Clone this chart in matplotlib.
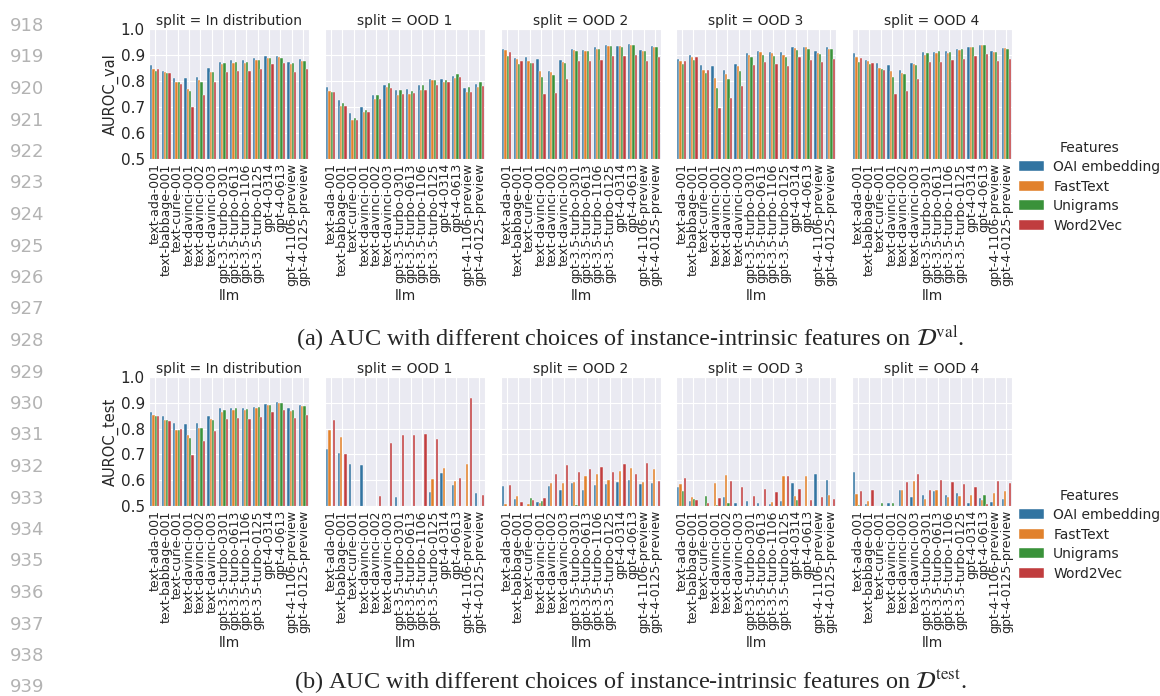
import numpy as np
import matplotlib
matplotlib.use("Agg")
import matplotlib.pyplot as plt
import seaborn as sns

llms = ["text-ada-001", "text-babbage-001", "text-curie-001", "text-davinci-001",
        "text-davinci-002", "text-davinci-003", "gpt-3.5-turbo-0301", "gpt-3.5-turbo-0613",
        "gpt-3.5-turbo-1106", "gpt-3.5-turbo-0125", "gpt-4-0314", "gpt-4-0613",
        "gpt-4-1106-preview", "gpt-4-0125-preview"]
features = ["OAI embedding", "FastText", "Unigrams", "Word2Vec"]
splits = ["In distribution", "OOD 1", "OOD 2", "OOD 3", "OOD 4"]
nan = np.nan

# AUROC on the validation set, one list per feature, in llm order
val_in_dist = {
    "OAI embedding": [0.860, 0.840, 0.810, 0.810, 0.815, 0.850, 0.875, 0.880, 0.880, 0.887, 0.895, 0.898, 0.872, 0.883],
    "FastText":      [0.845, 0.835, 0.795, 0.770, 0.805, 0.835, 0.865, 0.870, 0.870, 0.880, 0.890, 0.893, 0.865, 0.878],
    "Unigrams":      [0.840, 0.830, 0.795, 0.760, 0.795, 0.835, 0.870, 0.875, 0.872, 0.880, 0.890, 0.890, 0.868, 0.878],
    "Word2Vec":      [0.845, 0.830, 0.790, 0.700, 0.745, 0.795, 0.835, 0.840, 0.840, 0.845, 0.865, 0.870, 0.835, 0.848],
}
val_ood1 = {
    "OAI embedding": [0.776, 0.726, 0.677, 0.700, 0.747, 0.786, 0.767, 0.769, 0.786, 0.808, 0.808, 0.818, 0.774, 0.790],
    "FastText":      [0.760, 0.705, 0.649, 0.682, 0.730, 0.776, 0.747, 0.750, 0.767, 0.805, 0.795, 0.813, 0.759, 0.777],
    "Unigrams":      [0.756, 0.715, 0.658, 0.688, 0.745, 0.792, 0.767, 0.763, 0.786, 0.805, 0.805, 0.828, 0.777, 0.796],
    "Word2Vec":      [0.756, 0.705, 0.649, 0.682, 0.732, 0.773, 0.751, 0.753, 0.767, 0.785, 0.796, 0.815, 0.759, 0.780],
}
val_ood2 = {
    "OAI embedding": [0.924, 0.890, 0.894, 0.885, 0.840, 0.881, 0.922, 0.920, 0.929, 0.940, 0.935, 0.941, 0.920, 0.936],
    "FastText":      [0.920, 0.886, 0.876, 0.837, 0.833, 0.872, 0.918, 0.917, 0.923, 0.933, 0.933, 0.937, 0.917, 0.929],
    "Unigrams":      [0.895, 0.867, 0.869, 0.817, 0.824, 0.871, 0.914, 0.917, 0.922, 0.933, 0.929, 0.937, 0.917, 0.932],
    "Word2Vec":      [0.912, 0.878, 0.868, 0.751, 0.754, 0.809, 0.876, 0.876, 0.882, 0.895, 0.895, 0.899, 0.878, 0.891],
}
val_ood3 = {
    "OAI embedding": [0.886, 0.899, 0.863, 0.856, 0.841, 0.867, 0.909, 0.917, 0.910, 0.910, 0.932, 0.932, 0.915, 0.931],
    "FastText":      [0.878, 0.892, 0.844, 0.810, 0.826, 0.856, 0.900, 0.910, 0.906, 0.900, 0.926, 0.929, 0.906, 0.922],
    "Unigrams":      [0.864, 0.879, 0.829, 0.773, 0.806, 0.837, 0.892, 0.901, 0.895, 0.894, 0.921, 0.924, 0.903, 0.924],
    "Word2Vec":      [0.878, 0.891, 0.842, 0.695, 0.733, 0.782, 0.860, 0.872, 0.864, 0.858, 0.891, 0.882, 0.874, 0.885],
}
val_ood4 = {
    "OAI embedding": [0.906, 0.882, 0.868, 0.863, 0.841, 0.868, 0.912, 0.913, 0.914, 0.924, 0.929, 0.940, 0.914, 0.927],
    "FastText":      [0.894, 0.876, 0.849, 0.837, 0.831, 0.864, 0.901, 0.908, 0.908, 0.918, 0.929, 0.940, 0.910, 0.927],
    "Unigrams":      [0.874, 0.864, 0.845, 0.815, 0.826, 0.860, 0.908, 0.914, 0.910, 0.922, 0.929, 0.937, 0.913, 0.924],
    "Word2Vec":      [0.888, 0.868, 0.841, 0.751, 0.763, 0.809, 0.874, 0.873, 0.881, 0.885, 0.897, 0.905, 0.877, 0.886],
}

# AUROC on the test set (nan = below the 0.5 axis floor, not readable)
test_in_dist = {
    "OAI embedding": [0.865, 0.849, 0.821, 0.818, 0.821, 0.849, 0.878, 0.881, 0.881, 0.885, 0.897, 0.902, 0.878, 0.892],
    "FastText":      [0.853, 0.834, 0.796, 0.777, 0.803, 0.839, 0.863, 0.872, 0.872, 0.878, 0.892, 0.900, 0.870, 0.888],
    "Unigrams":      [0.848, 0.834, 0.796, 0.764, 0.803, 0.834, 0.871, 0.881, 0.875, 0.883, 0.892, 0.900, 0.872, 0.888],
    "Word2Vec":      [0.847, 0.831, 0.799, 0.698, 0.753, 0.791, 0.839, 0.841, 0.839, 0.844, 0.866, 0.874, 0.841, 0.854],
}
test_ood1 = {
    "OAI embedding": [0.719, 0.707, 0.664, 0.657, nan, nan, 0.534, nan, nan, 0.553, 0.628, 0.581, nan, 0.550],
    "FastText":      [0.796, 0.769, nan, nan, nan, nan, nan, nan, nan, 0.603, 0.649, 0.595, 0.662, nan],
    "Unigrams":      [nan, nan, nan, nan, nan, nan, nan, nan, nan, nan, nan, nan, nan, nan],
    "Word2Vec":      [0.835, 0.702, nan, nan, 0.540, 0.744, 0.776, 0.776, 0.781, 0.758, nan, 0.607, 0.918, 0.544],
}
test_ood2 = {
    "OAI embedding": [0.577, 0.528, nan, 0.515, 0.576, 0.562, 0.589, 0.562, 0.582, 0.584, 0.594, 0.601, 0.585, 0.589],
    "FastText":      [0.509, 0.537, 0.506, 0.512, 0.591, 0.590, 0.593, 0.616, 0.624, 0.599, 0.635, 0.647, 0.594, 0.644],
    "Unigrams":      [nan, nan, 0.530, 0.518, nan, nan, 0.505, nan, nan, nan, nan, nan, nan, nan],
    "Word2Vec":      [0.582, 0.514, 0.522, 0.530, 0.624, 0.660, 0.631, 0.643, 0.653, 0.630, 0.662, 0.625, 0.668, 0.595],
}
test_ood3 = {
    "OAI embedding": [0.572, 0.518, nan, nan, 0.535, 0.513, 0.519, 0.510, 0.506, 0.519, 0.591, nan, 0.624, 0.601],
    "FastText":      [0.584, 0.534, nan, 0.588, 0.619, nan, nan, nan, 0.517, 0.615, 0.539, 0.615, nan, 0.541],
    "Unigrams":      [0.557, 0.528, 0.540, 0.505, 0.513, nan, nan, nan, nan, nan, 0.524, nan, nan, nan],
    "Word2Vec":      [0.608, 0.522, 0.510, 0.532, 0.598, 0.575, 0.540, 0.567, 0.553, 0.615, 0.567, 0.524, 0.536, 0.526],
}
test_ood4 = {
    "OAI embedding": [0.631, 0.508, nan, 0.510, 0.561, 0.534, 0.544, 0.558, 0.541, 0.549, 0.510, 0.530, 0.514, 0.528],
    "FastText":      [0.546, 0.518, nan, nan, 0.563, 0.595, 0.528, 0.563, 0.534, 0.540, 0.544, 0.524, 0.550, 0.557],
    "Unigrams":      [0.505, nan, 0.510, 0.513, nan, nan, nan, nan, nan, nan, nan, 0.541, nan, nan],
    "Word2Vec":      [0.559, 0.562, nan, nan, 0.593, 0.625, 0.562, 0.602, 0.594, 0.586, 0.572, 0.508, 0.598, 0.589],
}

val_data = [val_in_dist, val_ood1, val_ood2, val_ood3, val_ood4]
test_data = [test_in_dist, test_ood1, test_ood2, test_ood3, test_ood4]

sns.set_style("darkgrid")
plt.rcParams["font.family"] = ["DejaVu Sans"]
plt.rcParams["mathtext.fontset"] = "stix"
colors = sns.color_palette("tab10", 4, desat=0.75)

W, H = 1160, 696
fig = plt.figure(figsize=(W / 100, H / 100), dpi=100)
fig.patch.set_facecolor("white")

panel_left = [149, 325, 501, 676, 852]
panel_w = 160


def draw_row(data, top_px, bottom_px, ylabel):
    x = np.arange(len(llms))
    bw = 0.8 / len(features)
    for i, split in enumerate(splits):
        ax = fig.add_axes([panel_left[i] / W, 1 - bottom_px / H,
                           panel_w / W, (bottom_px - top_px) / H])
        for j, feat in enumerate(features):
            vals = np.array(data[i][feat], dtype=float)
            ax.bar(x - 0.4 + bw * (j + 0.5), vals, width=bw, color=colors[j],
                   edgecolor="white", linewidth=0.3, label=feat)
        ax.set_ylim(0.5, 1.0)
        ax.set_xlim(-0.5, len(llms) - 0.5)
        ax.set_yticks([0.5, 0.6, 0.7, 0.8, 0.9, 1.0])
        ax.set_xticks(x)
        ax.set_xticklabels(llms, rotation=90, fontsize=9)
        ax.tick_params(axis="x", length=0, pad=3)
        ax.set_title(f"split = {split}", fontsize=10, pad=3)
        ax.set_xlabel("llm", fontsize=10, labelpad=2)
        if i == 0:
            ax.set_ylabel(ylabel, fontsize=10.5, labelpad=1)
            ax.tick_params(axis="y", labelsize=11, length=0, pad=3)
        else:
            ax.set_yticklabels([])
            ax.tick_params(axis="y", length=0)
    return ax


ax_top = draw_row(val_data, 29, 159, "AUROC_val")
ax_bot = draw_row(test_data, 377, 506, "AUROC_test")

handles, labels = ax_top.get_legend_handles_labels()
for top in (128, 476):
    fig.legend(handles, labels, title="Features", loc="upper left",
               bbox_to_anchor=(1006 / W, 1 - top / H), frameon=False,
               fontsize=10, title_fontsize=10, handlelength=1.8,
               handletextpad=0.7, labelspacing=0.4)

fig.text(630 / W, 1 - 346 / H,
         r"(a) AUC with different choices of instance-intrinsic features on $\mathcal{D}^{\mathrm{val}}$.",
         family="Liberation Serif", fontsize=17.5, ha="center", va="baseline")
fig.text(630 / W, 1 - 689 / H,
         r"(b) AUC with different choices of instance-intrinsic features on $\mathcal{D}^{\mathrm{test}}$.",
         family="Liberation Serif", fontsize=17.5, ha="center", va="baseline")

# manuscript line numbers down the left margin
for k in range(22):
    fig.text(27 / W, 1 - (26 + k * 31.5) / H, str(918 + k), fontsize=13,
             color="#b3b3b3", ha="center", va="center")

fig.savefig("out.png", dpi=100, facecolor="white")
